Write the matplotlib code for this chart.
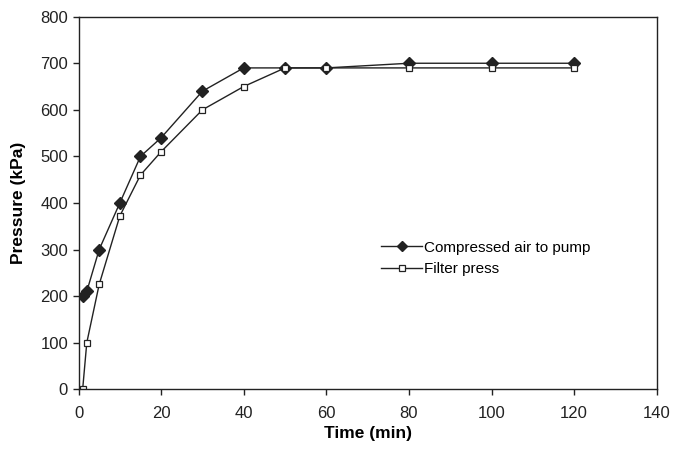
import matplotlib.pyplot as plt

plt.rcParams['font.family'] = ['Liberation Sans', 'DejaVu Sans']

time_air = [1, 2, 5, 10, 15, 20, 30, 40, 50, 60, 80, 100, 120]
air = [200, 210, 300, 400, 500, 540, 640, 690, 690, 690, 700, 700, 700]
time_fp = [1, 2, 5, 10, 15, 20, 30, 40, 50, 60, 80, 100, 120]
filter_press = [0, 100, 225, 372, 460, 510, 600, 650, 690, 690, 690, 690, 690]

dark = '#222222'

fig = plt.figure(figsize=(6.77, 4.51), dpi=100)
ax = fig.add_axes([0.116, 0.137, 0.854, 0.826])

ax.plot(time_air, air, color=dark, lw=1, marker='D', ms=6,
        mfc=dark, mec=dark, label='Compressed air to pump')
ax.plot(time_fp, filter_press, color=dark, lw=1, marker='s', ms=4.8,
        mfc='white', mec=dark, mew=0.9, label='Filter press')

ax.set_xlim(0, 140)
ax.set_ylim(0, 800)
ax.set_xticks(range(0, 141, 20))
ax.set_yticks(range(0, 801, 100))
ax.tick_params(direction='out', labelsize=12, length=4, width=1,
               colors=dark, labelcolor='#222222')
ax.tick_params(axis='x', pad=8)
for s in ax.spines.values():
    s.set_linewidth(1)
    s.set_color(dark)
ax.set_xlabel('Time (min)', fontsize=12.5, fontweight='bold', labelpad=4)
ax.set_ylabel('Pressure (kPa)', fontsize=12.5, fontweight='bold', labelpad=10)

ax.legend(loc='upper left', bbox_to_anchor=(0.513, 0.415), frameon=False,
          fontsize=11, handlelength=2.7, handletextpad=0.1, labelspacing=0.5,
          borderaxespad=0, markerscale=0.85)

fig.savefig('out.png', dpi=100)
